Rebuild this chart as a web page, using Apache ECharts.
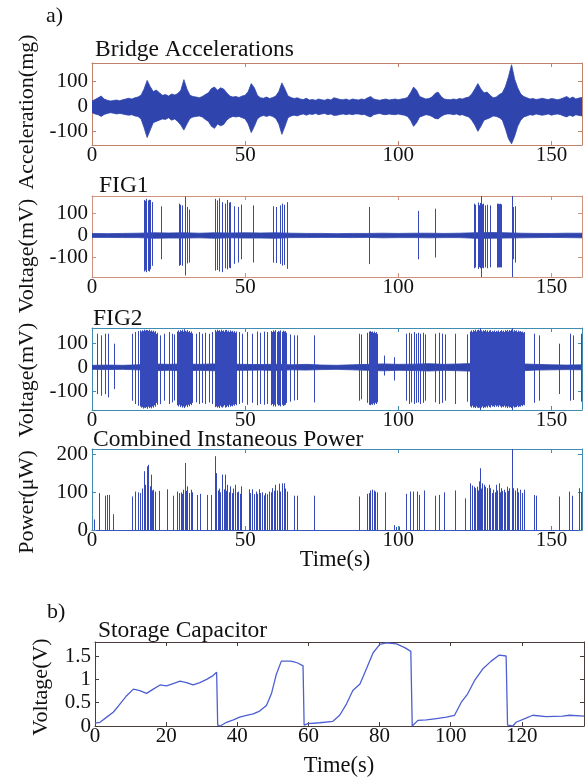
<!DOCTYPE html>
<html><head><meta charset="utf-8">
<script src="https://cdn.jsdelivr.net/npm/echarts@6/dist/echarts.min.js"></script>
<style>html,body{margin:0;padding:0;background:#fff}#c{width:585px;height:777px}</style>
</head><body><div id="c"></div>
<script>
// ---------------- DATA ----------------
// Bridge acceleration envelope (mg), one value per second, t = 0..160
const accUpper = [22,28,35,42,30,25,22,24,26,23,27,30,33,30,35,38,45,70,105,80,60,66,55,45,48,42,50,46,52,65,108,70,45,40,38,35,40,48,55,72,78,65,75,70,55,42,38,40,36,42,45,60,92,75,45,35,33,38,32,36,42,60,95,70,42,36,32,35,30,28,33,26,28,25,30,27,25,30,26,35,32,28,27,30,25,30,28,26,30,28,35,40,30,27,25,28,30,26,28,30,27,30,32,36,55,78,65,40,35,30,32,38,52,58,40,30,28,27,30,28,32,30,35,38,50,70,92,70,55,58,45,35,38,48,55,80,120,168,110,75,50,40,35,30,32,28,30,33,30,28,32,30,27,30,35,40,32,38,30,34,36];
const accLower = [-25,-30,-33,-40,-32,-28,-25,-27,-30,-28,-30,-33,-35,-33,-38,-40,-50,-85,-125,-95,-65,-60,-55,-50,-52,-45,-55,-50,-60,-75,-95,-70,-48,-42,-40,-38,-42,-52,-60,-80,-88,-70,-78,-72,-55,-45,-40,-42,-40,-45,-50,-70,-105,-80,-50,-40,-36,-40,-36,-40,-48,-70,-112,-80,-45,-38,-35,-38,-33,-30,-35,-30,-32,-28,-33,-30,-28,-33,-30,-36,-35,-32,-30,-33,-30,-33,-30,-30,-33,-32,-38,-42,-33,-30,-28,-32,-33,-30,-32,-33,-30,-33,-35,-40,-55,-80,-65,-42,-38,-33,-35,-40,-48,-50,-40,-33,-30,-30,-33,-30,-35,-33,-38,-42,-55,-75,-100,-80,-55,-50,-45,-38,-40,-45,-55,-90,-130,-150,-120,-80,-55,-42,-38,-33,-35,-30,-33,-35,-33,-30,-35,-32,-30,-33,-38,-42,-35,-40,-33,-36,-38];

// FIG1 baseline noise envelope (mV), every 5 s
const fig1NoiseUpper = [9,8,9,10,12,11,12,10,12,11,12,11,12,10,9,9,8,9,9,10,9,10,10,9,10,12,13,12,10,9,9,10,10];
const fig1NoiseLower = [-9,-9,-10,-10,-13,-12,-12,-11,-13,-11,-12,-12,-13,-10,-10,-9,-9,-10,-9,-11,-10,-10,-11,-10,-10,-13,-13,-12,-11,-10,-9,-10,-11];
// FIG1 spikes: [time s, top mV, bottom mV]
const fig1Spikes = [[16.9,162,-165],[17.3,158,-160],[17.7,167,-168],[18.3,160,-162],[18.7,163,-165],[19.1,162,-155],[19.6,152,-139],[22.4,133,-109],
[28.3,145,-139],[28.8,140,-135],[29.4,137,-139],[30.5,177,-183],[31.0,130,-128],[31.6,118,-124],
[40.3,167,-161],[40.8,160,-158],[41.4,170,-165],[42.5,152,-168],[43.3,145,-150],[44.1,162,-155],[44.6,150,-148],[45.2,152,-150],[46.3,133,-130],[47.6,130,-124],[48.5,141,-109],[52.5,137,-124],
[59.1,133,-124],[60.2,130,-126],[61.3,137,-130],[62.2,145,-138],[62.7,140,-135],[63.7,152,-153],
[90.5,130,-131],[106.3,112,-109],[112.1,122,-101],
[124.6,145,-150],[125.2,140,-146],[125.9,150,-153],[126.3,138,-145],[126.6,148,-150],[127.0,180,-190],[127.3,142,-148],[127.6,145,-150],[128.2,137,-146],[129.0,140,-150],[129.8,137,-146],
[132.1,145,-146],[132.4,142,-146],[132.6,145,-146],[132.9,143,-146],[133.2,145,-146],[133.4,142,-146],
[137.0,180,-190],[137.5,130,-109],[138.1,133,-124]];

// FIG2 baseline noise envelope (mV), every 5 s
const fig2NoiseUpper = [8,9,8,10,14,12,14,12,14,13,12,11,13,10,12,9,8,10,12,14,12,13,15,12,14,16,18,16,14,12,10,9,10];
const fig2NoiseLower = [-9,-10,-9,-11,-15,-13,-15,-13,-15,-13,-13,-12,-14,-11,-12,-10,-9,-11,-13,-15,-13,-14,-16,-13,-15,-17,-19,-17,-15,-12,-11,-10,-11];
// FIG2 spikes: [time s, top mV, bottom mV]
const fig2Spikes = [[1.7,141,-113],[2.8,134,-120],[4.2,141,-113],[5.2,141,-127],[7.1,99,-92],
[13.1,141,-141],[14.2,148,-155],[15.0,152,-162],
[15.6,155,-165],[16.0,150,-170],[16.3,156,-168],[16.6,152,-174],[16.9,158,-170],[17.2,154,-172],[17.5,157,-168],[17.8,150,-175],[18.1,156,-170],[18.4,153,-166],[18.7,158,-172],[19.0,151,-168],[19.3,155,-173],[19.6,150,-165],[19.9,154,-170],[20.2,147,-160],[20.5,152,-166],[20.9,140,-150],[21.3,145,-158],
[22.1,134,-155],[23.4,141,-141],[25.1,148,-155],[26.2,141,-148],[26.7,138,-140],
[27.8,150,-160],[28.1,155,-165],[28.4,148,-158],[28.7,156,-168],[29.0,152,-162],[29.3,158,-170],[29.6,150,-165],[29.9,155,-168],[30.2,160,-172],[30.5,153,-166],[30.8,150,-160],[31.1,156,-168],[31.4,148,-158],[31.7,152,-164],[32.0,145,-155],[32.4,150,-160],[32.7,142,-150],
[33.8,141,-148],[34.9,148,-155],[35.9,141,-150],[37.0,145,-155],[38.1,141,-148],[39.2,148,-155],
[40.0,152,-160],[40.3,157,-168],[40.6,150,-165],[40.9,158,-170],[41.2,153,-166],[41.5,156,-172],[41.8,150,-162],[42.1,158,-168],[42.4,152,-170],[42.7,155,-165],[43.0,149,-160],[43.3,156,-170],[43.6,151,-165],[43.9,157,-168],[44.2,150,-162],[44.5,154,-168],[44.8,148,-158],[45.1,155,-166],[45.4,150,-162],[45.7,153,-165],[46.0,147,-158],[46.3,152,-162],[46.6,145,-155],[46.9,150,-160],
[47.9,148,-155],[49.0,141,-150],[50.6,148,-158],[52.3,141,-150],[53.9,150,-160],[55.0,145,-155],[56.1,150,-158],[57.2,148,-155],
[58.3,152,-160],[58.7,148,-155],[59.1,155,-165],[59.5,150,-158],[59.9,156,-166],[60.3,148,-156],[60.7,153,-162],[61.1,150,-160],[61.5,155,-165],[61.9,149,-158],[62.3,154,-163],[62.7,150,-160],[63.1,152,-158],[63.5,145,-150],
[64.8,138,-145],[65.9,134,-140],[66.9,134,-138],[72.4,134,-148],[87.1,141,-141],[87.8,138,-135],
[89.9,145,-150],[90.3,150,-158],[90.6,146,-155],[90.9,152,-160],[91.2,148,-156],[91.5,150,-158],[91.8,145,-152],[92.1,150,-158],[92.4,144,-150],[92.7,148,-155],[93.0,140,-148],
[95.3,49,-35],[98.5,42,-56],
[102.6,141,-141],[103.4,145,-155],[104.1,141,-148],[105.0,148,-155],[105.9,141,-150],[106.6,145,-148],[107.2,141,-155],[108.1,145,-150],[108.8,138,-141],
[112.1,141,-148],[113.2,145,-155],[114.3,141,-150],[115.4,138,-141],
[118.6,141,-155],[122.4,138,-145],
[123.5,150,-165],[123.8,155,-170],[124.1,148,-162],[124.4,156,-170],[124.7,152,-168],[125.0,158,-172],[125.3,150,-165],[125.6,156,-170],[125.9,152,-168],[126.2,158,-172],[126.5,154,-170],[126.8,164,-180],[127.1,155,-170],[127.4,150,-165],[127.7,156,-172],[128.0,152,-168],[128.3,157,-170],[128.6,150,-165],[128.9,155,-170],[129.2,148,-162],[129.5,154,-168],[129.8,150,-165],[130.1,156,-170],[130.4,148,-160],[130.7,153,-166],[131.0,150,-164],[131.3,155,-168],[131.6,148,-160],[131.9,153,-166],[132.2,150,-162],[132.5,155,-168],[132.8,148,-160],[133.1,152,-165],[133.4,150,-162],[133.7,156,-170],[134.0,150,-165],[134.3,154,-168],[134.6,148,-162],[134.9,156,-170],[135.2,152,-165],[135.5,157,-172],[135.8,150,-165],[136.1,156,-170],[136.4,153,-168],[136.7,158,-172],[137.0,164,-180],[137.3,155,-170],[137.6,150,-165],[137.9,156,-170],[138.2,152,-168],[138.5,155,-168],[138.8,148,-162],[139.1,154,-168],[139.4,150,-165],[139.7,152,-166],[140.0,148,-160],[140.3,150,-164],[140.6,145,-158],[140.9,148,-160],[141.2,142,-152],
[144.2,141,-150],[145.8,134,-141],[152.4,99,-113],[156.2,141,-141],[157.2,134,-138],[159.8,141,-145]];

// Combined instantaneous power spikes: [time s, power uW]
const powerSpikes = [[0.6,28],[2.4,98],[4.4,91],[4.9,93],[5.5,93],[6.9,42],
[13.1,89],[14.2,102],[15.0,100],[15.8,98],[16.4,110],[16.9,156],[17.3,120],[17.8,169],[18.2,173],[18.8,116],[19.3,147],[19.6,105],[20.0,107],[20.7,102],[21.8,104],
[24.5,108],[26.5,91],[27.8,102],[28.3,98],[28.9,100],[29.4,96],[29.8,107],[30.3,178],[30.7,104],[31.1,116],[31.6,98],[32.2,107],[32.7,100],
[34.3,93],[35.4,96],[37.4,93],[38.7,93],
[40.0,104],[40.3,196],[40.6,151],[41.0,105],[41.4,110],[41.9,100],[42.5,147],[43.0,108],[43.3,147],[43.7,104],[44.1,120],[44.6,100],[45.2,116],[45.7,98],[46.1,110],[46.8,120],[47.2,100],[47.6,102],[48.2,96],[48.7,116],
[51.2,108],[51.7,98],[52.3,108],[52.8,95],[53.4,102],[53.9,96],[54.5,108],[55.0,98],[55.6,100],[56.1,92],[56.6,98],[57.2,95],[57.7,102],[58.3,100],[58.8,111],[59.4,104],[59.9,120],[60.5,105],[61.0,123],[61.5,102],[62.1,124],[62.8,124],[63.1,110],[63.7,102],
[65.9,91],[66.9,91],[72.4,91],[87.1,89],
[89.8,96],[90.4,98],[90.9,105],[91.4,107],[92.0,105],[92.5,102],[93.1,100],
[95.8,100],[98.5,13],[99.3,8],[100.1,9],
[102.6,96],[103.7,102],[104.8,102],[106.1,102],[106.9,93],[108.3,105],
[112.1,91],[113.2,93],[114.8,100],[118.6,105],[121.9,84],
[123.5,124],[124.1,118],[124.6,115],[124.9,100],[125.2,111],[125.7,115],[126.0,105],[126.3,129],[126.8,164],[127.1,110],[127.4,124],[127.9,120],[128.2,105],[128.4,115],[129.0,111],[129.5,120],[129.8,100],[130.1,111],[130.6,98],[131.1,107],[131.5,100],[132.0,120],[132.4,105],[132.8,124],[133.2,100],[133.5,111],[134.0,104],[134.4,107],[134.9,100],[135.5,115],[135.9,104],[136.3,111],[137.1,215],[137.6,111],[138.2,105],[138.7,111],[139.2,100],[139.6,107],[140.4,98],[141.1,107],
[144.2,93],[145.0,91],[152.4,89],[155.7,102],[156.8,91],[158.9,111],[159.8,100]];

// Storage capacitor voltage
const capTime = [0,1.4,3.3,5.2,7.0,8.9,10.8,12.6,14.5,16.4,18.3,20.1,22.0,23.9,25.7,27.6,29.5,31.4,33.2,34.2,34.4,34.5,35.2,37.0,38.9,40.7,42.6,44.5,46.3,48.2,49.6,51.0,52.4,54.8,55.7,57.0,58.5,58.7,58.8,59.9,63.2,66.9,68.8,70.7,72.5,74.5,76.3,78.2,80.1,81.9,84.8,87.1,88.8,89.0,89.2,90.8,93.2,96.0,98.8,101.1,103.0,104.8,106.7,109.0,111.4,113.7,115.6,115.8,116.0,117.5,118.4,121.2,123.1,126.8,131.5,133.4,137.5];
const capVolt = [0.06,0.08,0.19,0.30,0.47,0.65,0.79,0.76,0.70,0.79,0.88,0.86,0.91,0.96,0.93,0.88,0.93,1.00,1.08,1.15,1.12,0.02,0.00,0.08,0.13,0.19,0.23,0.26,0.32,0.44,0.69,1.11,1.39,1.39,1.38,1.35,1.29,1.25,0.02,0.05,0.07,0.10,0.23,0.47,0.76,0.90,1.22,1.57,1.75,1.78,1.76,1.68,1.60,1.58,0.00,0.12,0.13,0.16,0.19,0.23,0.51,0.69,0.97,1.22,1.39,1.52,1.50,1.50,0.02,0.00,0.08,0.17,0.23,0.20,0.21,0.23,0.21];

// Tick values
const xTicksA = [0,50,100,150];
const yTicksAcc = [-100,0,100];
const yTicksVolt = [-100,0,100];
const yTicksPow = [0,100,200];
const xTicksB = [0,20,40,60,80,100,120];
const yTicksCap = [0,0.5,1,1.5];

// ---------------- CHART ----------------
const FONT = 'Liberation Serif, Times New Roman, serif';
const BLUE = '#2f45ad';
const SPIKE = '#3549bb';
const grids = [
  {left:92, top:63, width:490, height:82},
  {left:92, top:196, width:490, height:81},
  {left:92, top:328, width:490, height:82},
  {left:92, top:449, width:490, height:81},
  {left:95, top:642, width:489, height:84}
];
const specs = [
  {x:[0,160], y:[-155,175], xt:xTicksA, yt:yTicksAcc, c:'#c0826c', cb:'#c0826c'},
  {x:[0,160], y:[-190,180], xt:xTicksA, yt:yTicksVolt, c:'#cf907e', cb:'#cf907e'},
  {x:[0,160], y:[-180,165], xt:xTicksA, yt:yTicksVolt, c:'#3f8db3', cb:'#3f8db3'},
  {x:[0,160], y:[0,215], xt:xTicksA, yt:yTicksPow, c:'#3f8db3', cb:'#3a55c0'},
  {x:[0,137.5], y:[0,1.8], xt:xTicksB, yt:yTicksCap, c:'#4a3c3a', cb:'#4a3c3a'}
];
const xAxis = [], yAxis = [];
specs.forEach((s, i) => {
  const lbl = {fontFamily:FONT, fontSize:21, color:'#111'};
  xAxis.push({type:'value', gridIndex:i, position:'bottom', min:s.x[0], max:s.x[1],
    axisLine:{onZero:false, lineStyle:{color:s.cb, width:1}},
    axisTick:{inside:true, length:4, customValues:s.xt, lineStyle:{color:s.c}},
    axisLabel:Object.assign({customValues:s.xt, margin:0}, lbl),
    splitLine:{show:false}});
  xAxis.push({type:'value', gridIndex:i, position:'top', min:s.x[0], max:s.x[1],
    axisLine:{onZero:false, lineStyle:{color:s.c, width:1}},
    axisTick:{inside:true, length:4, customValues:s.xt, lineStyle:{color:s.c}},
    axisLabel:{show:false}, splitLine:{show:false}});
  yAxis.push({type:'value', gridIndex:i, position:'left', min:s.y[0], max:s.y[1],
    axisLine:{onZero:false, lineStyle:{color:s.c, width:1}},
    axisTick:{inside:true, length:4, customValues:s.yt, lineStyle:{color:s.c}},
    axisLabel:Object.assign({customValues:s.yt, margin:4}, lbl),
    splitLine:{show:false}});
  yAxis.push({type:'value', gridIndex:i, position:'right', min:s.y[0], max:s.y[1],
    axisLine:{onZero:false, lineStyle:{color:s.c, width:1}},
    axisTick:{inside:true, length:4, customValues:s.yt, lineStyle:{color:s.c}},
    axisLabel:{show:false}, splitLine:{show:false}});
});

// Envelope band drawn as one polygon through the axis scales
function bandSeries(upper, lower, step, gi, color) {
  const data = upper.map((v, k) => [k*step, v, lower[k]]);
  return {type:'custom', xAxisIndex:2*gi, yAxisIndex:2*gi, data:data, clip:true, animation:false, silent:true, z:2,
    encode:{x:0, y:[1,2]},
    renderItem:(p, api) => {
      if (p.dataIndex !== 0) return null;
      const pts = [];
      data.forEach(d => pts.push(api.coord([d[0], d[1]])));
      for (let k = data.length - 1; k >= 0; k--) pts.push(api.coord([data[k][0], data[k][2]]));
      return {type:'polygon', shape:{points:pts}, style:{fill:color, stroke:color, lineWidth:0.8}};
    }};
}
function spikeSeries(arr, gi, color) {
  return {type:'custom', xAxisIndex:2*gi, yAxisIndex:2*gi, data:arr, clip:true, animation:false, silent:true, z:3,
    encode:{x:0, y:[1,2]},
    renderItem:(p, api) => {
      const t = api.value(0);
      const a = api.coord([t, api.value(1)]);
      const b = api.coord([t, arr[p.dataIndex].length > 2 ? api.value(2) : 0]);
      const x = Math.round(a[0]) + 0.5;
      return {type:'line', shape:{x1:x, y1:a[1], x2:x, y2:b[1]}, style:{stroke:color, lineWidth:1}};
    }};
}

const series = [
  bandSeries(accUpper, accLower, 1, 0, BLUE),
  bandSeries(fig1NoiseUpper, fig1NoiseLower, 5, 1, BLUE),
  spikeSeries(fig1Spikes, 1, SPIKE),
  bandSeries(fig2NoiseUpper, fig2NoiseLower, 5, 2, BLUE),
  spikeSeries(fig2Spikes, 2, SPIKE),
  spikeSeries(powerSpikes, 3, SPIKE),
  {type:'line', xAxisIndex:8, yAxisIndex:8, showSymbol:false, symbol:'none', animation:false,
   data: capTime.map((t, k) => [t, capVolt[k]]), lineStyle:{color:'#4d5fd2', width:1.3}}
];

function txt(text, x, y, size, opts) {
  return Object.assign({type:'text', x:x, y:y, silent:true,
    style:Object.assign({text:text, font:size + 'px ' + FONT, fill:'#111', textAlign:'left', textVerticalAlign:'middle'}, (opts||{}).style||{})},
    (opts||{}).rot ? {rotation:Math.PI/2} : {});
}
const rot = {rot:true, style:{textAlign:'center'}};
const graphic = [
  txt('a)', 46, 16, 22),
  txt('Bridge Accelerations', 95, 50, 23.5),
  txt('FIG1', 99, 186, 23.5),
  txt('FIG2', 93, 319, 23.5),
  txt('Combined Instaneous Power', 93, 440, 23.5),
  txt('Time(s)', 335, 560, 22.5, {style:{textAlign:'center'}}),
  txt('b)', 47, 612, 22),
  txt('Storage Capacitor', 98, 631, 23.5),
  txt('Time(s)', 339, 766, 22.5, {style:{textAlign:'center'}}),
  txt('Acceleration(mg)', 27, 112, 22, rot),
  txt('Voltage(mV)', 27, 256, 22, rot),
  txt('Voltage(mV)', 27, 380, 22, rot),
  txt('Power(\u03bcW)', 27, 502, 22, rot),
  txt('Voltage(V)', 41, 687, 22, rot)
];

const chart = echarts.init(document.getElementById('c'), null, {renderer:'canvas'});
chart.setOption({animation:false, backgroundColor:'#fff', grid:grids, xAxis:xAxis, yAxis:yAxis, series:series, graphic:graphic});
</script></body></html>
